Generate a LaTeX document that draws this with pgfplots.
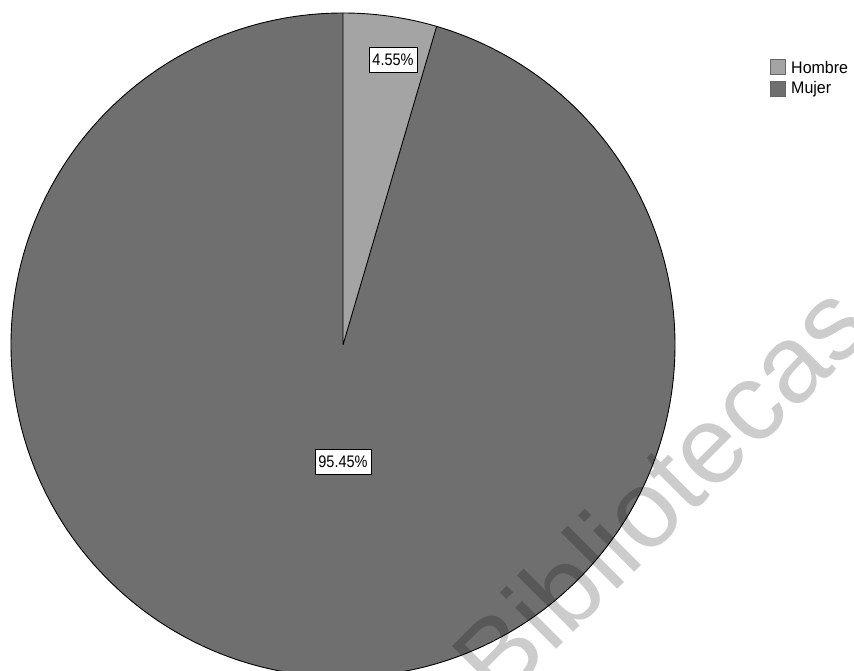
\documentclass[border=0pt]{standalone}
\usepackage{graphicx}
\usepackage{pgfplots}
\pgfplotsset{compat=1.18}
\usepackage{pgfplotstable}
\usepackage{fontspec}
\setmainfont{Liberation Sans}

\definecolor{hombre}{HTML}{A4A4A4}
\definecolor{mujer}{HTML}{6F6F6F}

% percentages by sex
\pgfplotstableread{
sexo pct
Hombre 4.55
Mujer 95.45
}\datos

\newcommand\lbl[1]{\fontsize{14.5bp}{17bp}\selectfont\scalebox{1}[1.15]{#1}}
\newcommand\leg[1]{\fontsize{16bp}{18bp}\selectfont\scalebox{1}[1.05]{#1}}

\begin{document}
\begin{tikzpicture}
\pgfplotstablegetelem{0}{pct}\of\datos \edef\pH{\pgfplotsretval}
\pgfplotstablegetelem{1}{pct}\of\datos \edef\pM{\pgfplotsretval}
\pgfmathsetmacro\aH{90-3.6*\pH}
\pgfmathsetmacro\aM{\aH-3.6*\pM}
\def\cx{343}\def\cy{326}\def\R{332bp}
\path[use as bounding box] (0,0) rectangle (854bp,671bp);
\clip (0,0) rectangle (854bp,671bp);
\begin{axis}[x=1bp,y=1bp,xmin=0,xmax=854,ymin=0,ymax=671,
  hide axis,clip=false,anchor=origin,at={(0,0)}]
  % slices
  \fill[mujer] (axis cs:\cx,\cy) -- ++(\aH:\R) arc[start angle=\aH,end angle=\aM,radius=\R] -- cycle;
  \fill[hombre] (axis cs:\cx,\cy) -- ++(90:\R) arc[start angle=90,end angle=\aH,radius=\R] -- cycle;
  \draw[black,line width=0.9bp] (axis cs:\cx,\cy) circle[radius=\R];
  \draw[black,line width=0.9bp] (axis cs:\cx,\cy) -- ++(90:\R)
        (axis cs:\cx,\cy) -- ++(\aH:\R);
  % value labels
  \node[draw=black,fill=white,line width=0.8bp,inner xsep=3.5bp,inner ysep=0pt,
        minimum height=25bp] at (axis cs:393,611.5) {\lbl{\pH\%}};
  \node[draw=black,fill=white,line width=0.8bp,inner xsep=3.5bp,inner ysep=0pt,
        minimum height=25bp] at (axis cs:343,209.5) {\lbl{\pM\%}};
  % legend
  \filldraw[fill=hombre,draw=black!60,line width=0.8bp] (axis cs:770.5,596.5) rectangle (axis cs:785.5,611.5);
  \filldraw[fill=mujer,draw=black!60,line width=0.8bp] (axis cs:770.5,574.5) rectangle (axis cs:785.5,589.5);
  \node[anchor=west,inner sep=0pt] at (axis cs:791,604) {\leg{Hombre}};
  \node[anchor=west,inner sep=0pt] at (axis cs:791,582) {\leg{Mujer}};
\end{axis}
\node[rotate=45,text=black,text opacity=0.2,inner sep=0pt,font=\fontsize{110bp}{110bp}\selectfont]
  at (660bp,180bp) {Bibliotecas};
\end{tikzpicture}
\end{document}
